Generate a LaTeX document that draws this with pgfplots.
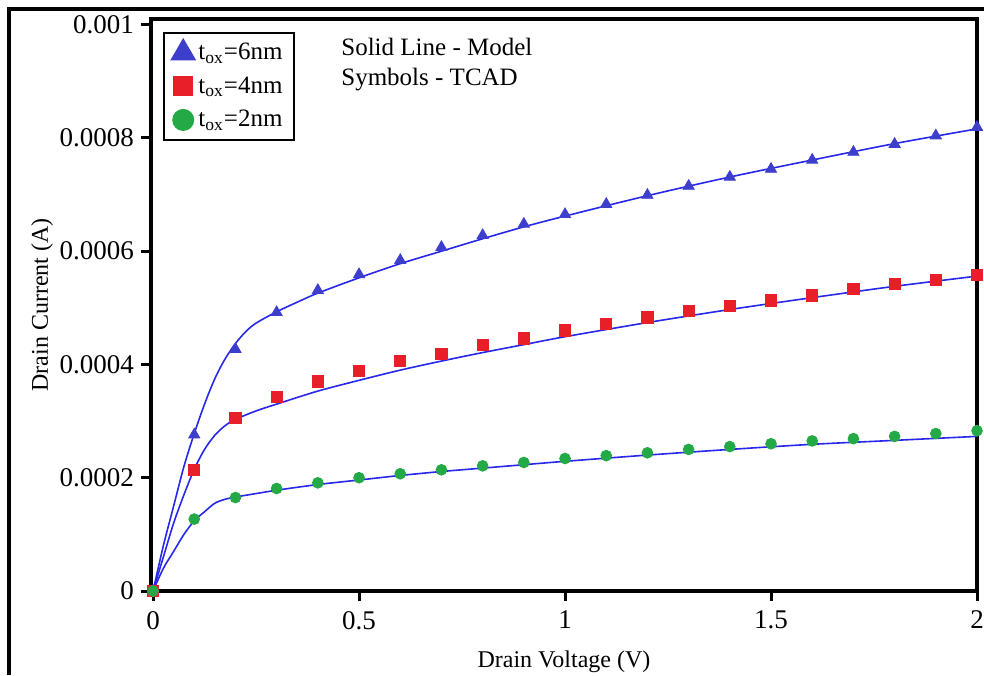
\documentclass[border=0pt]{standalone}
\usepackage{fontspec}
\setmainfont{Liberation Serif}
\usepackage{pgfplots}
\pgfplotsset{compat=1.18}

\definecolor{tri}{RGB}{62,62,205}
\definecolor{sq}{RGB}{232,30,40}
\definecolor{circ}{RGB}{35,170,70}
\definecolor{model}{RGB}{40,40,235}

\begin{document}
\begin{tikzpicture}
\begin{axis}[
  at={(0,0)}, anchor=south west,
  scale only axis,
  width=413pt, height=286pt,
  xmin=-0.005, xmax=2,
  ymin=0, ymax=0.00101,
  axis line style={line width=1.75pt},
  tick style={line width=1.5pt, black},
  major tick length=5pt,
  tick align=outside,
  xtick pos=bottom, ytick pos=left,
  xtick={0,0.5,1,1.5,2},
  ytick={0,0.0002,0.0004,0.0006,0.0008,0.001},
  scaled y ticks=false,
  yticklabel style={/pgf/number format/fixed, /pgf/number format/precision=4},
  xticklabel style={yshift=-1.5pt},
  /pgf/number format/assume math mode=true,
  tick label style={font=\fontsize{13.5}{16}\selectfont},
  xlabel={Drain Voltage (V)},
  ylabel={Drain Current (A)},
  label style={font=\fontsize{12}{14}\selectfont},
  xlabel style={yshift=-4pt},
  ylabel style={yshift=-3.5pt},
  legend style={
    at={(0.0145,0.977)}, anchor=north west,
    draw=black, line width=1pt,
    font=\fontsize{12.5}{15}\selectfont,
    row sep=3pt,
    inner xsep=4pt, inner ysep=3pt,
    legend cell align=left
  },
]
% legend images (large symbols)
\addlegendimage{only marks, mark=triangle*, mark size=6.5pt, color=tri}
\addlegendentry{t\textsubscript{ox}=6nm}
\addlegendimage{only marks, mark=square*, mark size=4.5pt, color=sq}
\addlegendentry{t\textsubscript{ox}=4nm}
\addlegendimage{only marks, mark=*, mark size=5pt, color=circ}
\addlegendentry{t\textsubscript{ox}=2nm}

% TCAD symbols
\addplot[forget plot, only marks, mark=triangle*, mark size=3.2pt, color=tri] coordinates {
  (0,0) (0.1,0.000276) (0.2,0.000427) (0.3,0.000492) (0.4,0.000531)
  (0.5,0.000559) (0.6,0.000584) (0.7,0.000607) (0.8,0.000628) (0.9,0.000648)
  (1.0,0.000665) (1.1,0.000683) (1.2,0.000699) (1.3,0.000715) (1.4,0.000731)
  (1.5,0.000745) (1.6,0.000761) (1.7,0.000775) (1.8,0.000789) (1.9,0.000804)
  (2.0,0.000819)};
\addplot[forget plot, only marks, mark=square*, mark size=2.8pt, color=sq] coordinates {
  (0,0) (0.1,0.000214) (0.2,0.000306) (0.3,0.000343) (0.4,0.000370)
  (0.5,0.000388) (0.6,0.000407) (0.7,0.000419) (0.8,0.000434) (0.9,0.000446)
  (1.0,0.000460) (1.1,0.000471) (1.2,0.000483) (1.3,0.000494) (1.4,0.000503)
  (1.5,0.000513) (1.6,0.000522) (1.7,0.000533) (1.8,0.000542) (1.9,0.000550)
  (2.0,0.000558)};
\addplot[forget plot, only marks, mark=*, mark size=2.7pt, color=circ] coordinates {
  (0,0) (0.1,0.000127) (0.2,0.000165) (0.3,0.000181) (0.4,0.000191)
  (0.5,0.000200) (0.6,0.000207) (0.7,0.000214) (0.8,0.000221) (0.9,0.000227)
  (1.0,0.000234) (1.1,0.000239) (1.2,0.000244) (1.3,0.000250) (1.4,0.000255)
  (1.5,0.000260) (1.6,0.000265) (1.7,0.000269) (1.8,0.000273) (1.9,0.000278)
  (2.0,0.000283)};

% model (solid lines)
\addplot[forget plot, model, line width=0.8pt, smooth, no marks] coordinates {
  (0,0) (0.025,0.00008) (0.05,0.00015) (0.075,0.00022) (0.1,0.000278)
  (0.125,0.00033) (0.15,0.000375) (0.175,0.00041) (0.2,0.000437)
  (0.225,0.000458) (0.25,0.000473) (0.3,0.000493) (0.35,0.000510)
  (0.4,0.000526) (0.5,0.000553) (0.6,0.000578) (0.7,0.0006) (0.8,0.000622)
  (0.9,0.000643) (1.0,0.000662) (1.2,0.000698) (1.4,0.000731) (1.6,0.000761)
  (1.8,0.00079) (2.0,0.000816)};
\addplot[forget plot, model, line width=0.8pt, smooth, no marks] coordinates {
  (0,0) (0.025,0.00006) (0.05,0.00012) (0.075,0.00017) (0.1,0.000215)
  (0.125,0.00025) (0.15,0.000275) (0.175,0.000292) (0.2,0.000303)
  (0.25,0.000318) (0.3,0.00033) (0.4,0.000353) (0.5,0.000372) (0.6,0.00039)
  (0.7,0.000406) (0.8,0.000421) (0.9,0.000435) (1.0,0.000449) (1.2,0.000474)
  (1.4,0.000497) (1.6,0.000518) (1.8,0.000538) (2.0,0.000556)};
\addplot[forget plot, model, line width=0.8pt, smooth, no marks] coordinates {
  (0,0) (0.025,0.00004) (0.05,0.00007) (0.075,0.0001) (0.1,0.000124)
  (0.125,0.00014) (0.15,0.000155) (0.175,0.000162) (0.2,0.000166)
  (0.25,0.000172) (0.3,0.000178) (0.4,0.000188) (0.5,0.000196)
  (0.6,0.000204) (0.7,0.000211) (0.8,0.000217) (0.9,0.000223) (1.0,0.000229)
  (1.2,0.00024) (1.4,0.00025) (1.6,0.000259) (1.8,0.000266) (2.0,0.000273)};

\node[anchor=west, font=\fontsize{12.5}{15}\selectfont] at (axis cs:0.44,0.000961) {Solid Line - Model};
\node[anchor=west, font=\fontsize{12.5}{15}\selectfont] at (axis cs:0.44,0.000904) {Symbols - TCAD};
\end{axis}
\pgfresetboundingbox
\path[use as bounding box] (-75.5pt,-42pt) rectangle (416.5pt,295.5pt);
\draw[line width=2pt] (416.5pt,290.75pt) -- (-71pt,290.75pt) -- (-71pt,-42pt);
\end{tikzpicture}
\end{document}
